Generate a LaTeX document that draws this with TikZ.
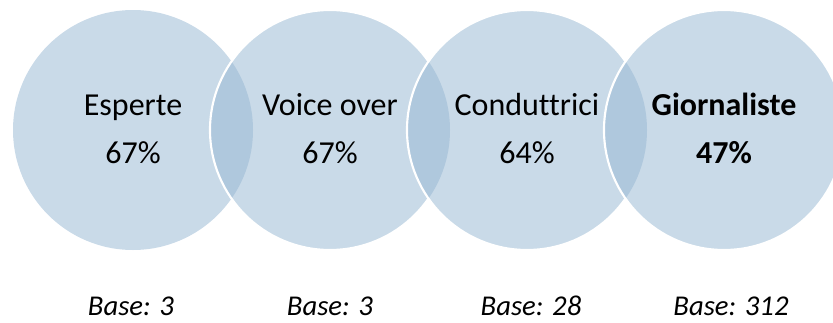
\documentclass[tikz,border=0pt]{standalone}
\usepackage{fontspec}
\setmainfont[Ligatures=NoCommon]{Carlito}
\definecolor{cone}{RGB}{201,218,232}
\definecolor{ctwo}{RGB}{175,200,221}
\begin{document}
\begin{tikzpicture}[x=0.75pt,y=-0.75pt,
  lbl/.style={anchor=base,inner sep=0pt,font=\fontsize{24pt}{28pt}\selectfont},
  baselbl/.style={anchor=base,inner sep=0pt,font=\fontsize{21.5pt}{26pt}\selectfont\itshape},
  ring/.style={draw=white,line width=1.6pt}]
\useasboundingbox (0,0) rectangle (833,322);
\def\R{120}
% circle 1
\fill[cone] (133,130) circle (\R);
% circle 2
\fill[cone] (330,130) circle (\R);
\begin{scope}\clip (133,130) circle (\R); \fill[ctwo] (330,130) circle (\R); \end{scope}
\draw[ring] (330,130) circle (\R);
% circle 3
\fill[cone] (527,130) circle (\R);
\begin{scope}\clip (330,130) circle (\R); \fill[ctwo] (527,130) circle (\R); \end{scope}
\draw[ring] (527,130) circle (\R);
% circle 4
\fill[cone] (724,130) circle (\R);
\begin{scope}\clip (527,130) circle (\R); \fill[ctwo] (724,130) circle (\R); \end{scope}
\draw[ring] (724,130) circle (\R);
% labels
\node[lbl] (t1) at (133,115) {Esperte};
\node[lbl] (p1) at (133,163) {67\%};
\node[lbl] (t2) at (330,115) {Voice over};
\node[lbl] (p2) at (330,163) {67\%};
\node[lbl] (t3) at (527,115) {Conduttrici};
\node[lbl] (p3) at (527,163) {64\%};
\node[lbl,font=\fontsize{24pt}{28pt}\selectfont\bfseries] (t4) at (724,115) {Giornaliste};
\node[lbl,font=\fontsize{24pt}{28pt}\selectfont\bfseries] (p4) at (724,163) {47\%};
\node[baselbl] (b1) at (131,315) {Base: 3};
\node[baselbl] (b2) at (330,315) {Base: 3};
\node[baselbl] (b3) at (531,315) {Base: 28};
\node[baselbl] (b4) at (731,315) {Base: 312};
\end{tikzpicture}
\end{document}
